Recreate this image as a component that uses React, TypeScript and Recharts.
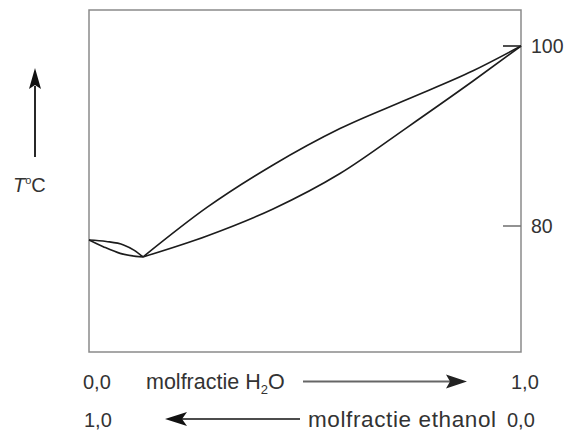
import React from 'react';
import { LineChart, Line, XAxis, YAxis, ReferenceArea } from 'recharts';

// mole fraction water (x) vs temperature in °C (t)
const dewLeft = [
  { x: 0, t: 78.44 },
  { x: 0.04, t: 78.28 },
  { x: 0.08, t: 77.9 },
  { x: 0.105, t: 77.3 },
  { x: 0.125, t: 76.56 },
];
const bubbleLeft = [
  { x: 0, t: 78.44 },
  { x: 0.033, t: 77.7 },
  { x: 0.072, t: 76.96 },
  { x: 0.125, t: 76.56 },
];
const dewRight = [
  { x: 0.125, t: 76.56 },
  { x: 0.273, t: 82.06 },
  { x: 0.426, t: 86.78 },
  { x: 0.581, t: 90.83 },
  { x: 0.736, t: 94.06 },
  { x: 0.889, t: 97.25 },
  { x: 1, t: 100 },
];
const bubbleRight = [
  { x: 0.125, t: 76.56 },
  { x: 0.273, t: 78.89 },
  { x: 0.426, t: 81.89 },
  { x: 0.581, t: 85.83 },
  { x: 0.736, t: 90.94 },
  { x: 0.889, t: 96.11 },
  { x: 1, t: 100 },
];
const tempTicks = [80, 100];
const tempDomain = [66, 104];

const font = '"Liberation Sans", Arial, sans-serif';
const lineColor = '#1c1c1c';
const textColor = '#333';

const TempTick = (props: any) => {
  const { x, y, payload } = props;
  return (
    <g>
      <line
        x1={x - 18}
        x2={x}
        y1={y}
        y2={y}
        stroke={payload.value === 100 ? '#222' : '#777'}
        strokeWidth={1.6}
      />
      <text x={x + 10} y={y} dy={7} fontSize={19.5} fill={textColor} fontFamily={font}>
        {payload.value}
      </text>
    </g>
  );
};

const series = [dewLeft, bubbleLeft, dewRight, bubbleRight];

export default function App() {
  return (
    <div style={{ position: 'absolute', left: 0, top: 0, width: 572, height: 438, background: '#fff' }}>
      <LineChart width={572} height={438} margin={{ top: 10, right: 0, bottom: 86, left: 89 }}>
        <XAxis type="number" dataKey="x" domain={[0, 1]} hide allowDuplicatedCategory={false} />
        <YAxis
          orientation="right"
          width={51}
          domain={tempDomain}
          ticks={tempTicks}
          axisLine={false}
          tickLine={false}
          tickSize={0}
          tickMargin={0}
          tick={<TempTick />}
        />
        <ReferenceArea x1={0} x2={1} y1={66} y2={104} fill="none" stroke="#8a8a8a" strokeWidth={1.5} />
        {series.map((d, i) => (
          <Line
            key={i}
            data={d}
            dataKey="t"
            type="monotone"
            stroke={lineColor}
            strokeWidth={1.6}
            dot={false}
            isAnimationActive={false}
          />
        ))}
      </LineChart>
      <svg
        width={572}
        height={438}
        style={{ position: 'absolute', left: 0, top: 0, pointerEvents: 'none' }}
        fontFamily={font}
      >
        {/* temperature arrow */}
        <line x1={35} y1={157} x2={35} y2={86} stroke="#111" strokeWidth={1.8} />
        <polygon points="35,68 29,89 35,85 41,89" fill="#111" />
        <text x={13} y={192} fontSize={20} fill={textColor}>
          <tspan fontStyle="italic">T</tspan>
          <tspan fontSize={11} dy={-8}>o</tspan>
          <tspan dy={8}>C</tspan>
        </text>

        {/* row 1 */}
        <text x={83} y={389} fontSize={20} fill={textColor}>0,0</text>
        <text x={146} y={389} fontSize={21.5} fill={textColor}>
          molfractie H<tspan fontSize={13} dy={5}>2</tspan>
          <tspan dy={-5}>O</tspan>
        </text>
        <line x1={303} y1={381.5} x2={450} y2={381.5} stroke="#666" strokeWidth={2.2} />
        <polygon points="467,381.5 446,374.5 450,381.5 446,388.5" fill="#222" />
        <text x={511} y={389} fontSize={20} fill={textColor}>1,0</text>

        {/* row 2 */}
        <text x={84} y={427} fontSize={20} fill={textColor}>1,0</text>
        <line x1={182} y1={419} x2={300} y2={419} stroke="#111" strokeWidth={1.6} />
        <polygon points="165,419 187,412 182,419 187,426" fill="#111" />
        <text x={308} y={427} fontSize={22.5} fill={textColor} textLength={188} lengthAdjust="spacing">
          molfractie ethanol
        </text>
        <text x={507} y={427} fontSize={20} fill={textColor}>0,0</text>
      </svg>
    </div>
  );
}
